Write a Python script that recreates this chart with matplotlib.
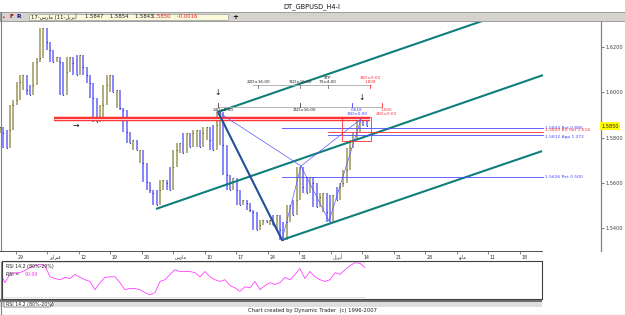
import matplotlib
matplotlib.use('Agg')
import matplotlib.pyplot as plt
import numpy as np
from matplotlib.patches import Rectangle, Polygon

# ---------------- data ----------------
week_labels = ['29', 'ﺮﻳﺍﺮﺒﻓ', '12', '19', '26', 'ﺱﺭﺎﻣ', '10', '17', '24', '31',
               'ﻞﻳﺮﺑﺃ', '14', '21', '28', 'ﻮﻳﺎﻣ', '11', '18']
price_ticks = [1.54, 1.56, 1.58, 1.60, 1.62]
last_price = 1.5850

# H4 price path (sampled), first sample at week -0.508, 9.45 samples per week
price_path = [
    1.5846, 1.5820, 1.5754, 1.5833, 1.5944, 1.5966, 1.6045, 1.6076, 1.6010, 1.5988,
    1.6032, 1.6134, 1.6151, 1.6284, 1.6222, 1.6187, 1.6134, 1.6156, 1.6134, 1.5988,
    1.6089, 1.6156, 1.6129, 1.6076, 1.6165, 1.6112, 1.6076, 1.6041, 1.5975, 1.5868,
    1.5891, 1.5944, 1.6032, 1.6076, 1.6001, 1.6010, 1.5930, 1.5922, 1.5824, 1.5776,
    1.5789, 1.5745, 1.5745, 1.5687, 1.5603, 1.5568, 1.5555, 1.5502, 1.5568, 1.5612,
    1.5599, 1.5568, 1.5670, 1.5745, 1.5776, 1.5731, 1.5820, 1.5758, 1.5820, 1.5833,
    1.5758, 1.5820, 1.5846, 1.5789, 1.5745, 1.5855, 1.5913, 1.5767, 1.5634, 1.5568,
    1.5621, 1.5568, 1.5502, 1.5524, 1.5510, 1.5480, 1.5471, 1.5391, 1.5413, 1.5435,
    1.5427, 1.5435, 1.5413, 1.5457, 1.5391, 1.5347, 1.5427, 1.5502, 1.5457, 1.5524,
    1.5670, 1.5581, 1.5555, 1.5625, 1.5599, 1.5493, 1.5537, 1.5555, 1.5471, 1.5427,
    1.5546, 1.5524, 1.5581, 1.5599, 1.5656, 1.5754, 1.5789, 1.5824, 1.5891, 1.5886,
    1.5850]
price_start_week = -0.508
price_per_week = 9.45

# RSI(14) sampled, first sample at week -0.508, 6.3 samples per week
rsi_values = [61, 44, 59, 61, 61, 65, 70, 73, 75, 73,
              54, 51, 49, 53, 51, 58, 53, 49, 46, 32,
              44, 53, 54, 54, 44, 32, 34, 34, 32, 27,
              23, 27, 46, 49, 58, 66, 63, 63, 63, 61,
              54, 63, 54, 49, 46, 49, 39, 35, 29, 37,
              35, 46, 32, 39, 44, 41, 44, 53, 49, 58,
              68, 51, 63, 54, 49, 46, 49, 61, 58, 66,
              73, 78, 77, 70]
rsi_start_week = -0.508
rsi_per_week = 6.3
rsi_levels = [20, 80]
rsi_last = 69.99

# pattern points X, A, B, C, D (week, price)
pat_w = [6.413, 8.444, 9.048, 9.937, 10.952]
pat_p = [1.5913, 1.5347, 1.5674, 1.5430, 1.5882]

# channel lines (start week, start price, end week, end price)
chan_top = (6.413, 1.5913, 16.73, 1.6408)
chan_mid = (4.444, 1.5484, 16.73, 1.6076)
chan_bot = (8.444, 1.5347, 16.70, 1.5740)

# resistance zone (red band)
zone_w = (1.206, 11.238)
zone_p = 1.5884

# projection levels: (price, start week, colour key, label)
levels = [(1.5844, 8.444, 'b', '1.5844 Ret 0.886'),
          (1.5823, 9.905, 'r', '1.5823 BX Ret 1.618'),
          (1.5812, 9.905, 'b', '1.5812 App 1.272'),
          (1.5626, 8.444, 'b', '1.5626 Ret 0.500')]
level_end_week = 16.73

# target box
box_w = (10.35, 11.27)
box_p = (1.5786, 1.5891)

# time rulers
ruler_up_p = 1.6032
ruler_up_span = (7.524, 11.27)
ruler_up_ticks = [(7.683, 'k', '22D±16:00'), (9.016, 'k', '31D±16:00'),
                  (9.905, 'k', 'STP\n73±4:00'), (11.238, 'r', '36D±0:00\n1.808')]
ruler_lo_p = 1.5935
ruler_lo_span = (6.413, 11.619)
ruler_lo_ticks = [(6.413, 'k', '24D±0:00'), (9.016, 'k', '31D±16:00'),
                  (10.667, 'b', '0.618\n15D±0:00'), (11.619, 'r', '1.000\n26D±0:00')]

# markers
down_arrows = [(6.413, 1.5997), (10.984, 1.5979)]
right_arrow = (1.905, 1.5855)

# ---------------- styling ----------------
BLUE_BAR = '#7272f6'
OLIVE_BAR = '#a49e66'
TEAL = '#0e7f7a'
NAVY = '#1f4f9a'
THIN_BLUE = '#5a5aff'
LVL_BLUE = '#4a4aff'
RED = '#ff3030'
RULER = '#a8a8a8'
colmap = {'k': '#202020', 'r': '#ff3030', 'b': '#4040ff'}

W, H = 625, 315
fig = plt.figure(figsize=(W / 100, H / 100), dpi=100)
fig.patch.set_facecolor('white')


def box(x0, y0, x1, y1):
    return [x0 / W, 1 - y1 / H, (x1 - x0) / W, (y1 - y0) / H]


# background / window chrome in pixel coordinates
bg = fig.add_axes([0, 0, 1, 1], zorder=0)
bg.set_xlim(0, W)
bg.set_ylim(H, 0)
bg.axis('off')
bg.add_patch(Rectangle((0, 12), W, 9, facecolor='#d6d3ce', edgecolor='#909090', lw=0.6))
bg.add_patch(Rectangle((29, 13.5), 199, 6.5, facecolor='#fbfbdc', edgecolor='#a0a0a0', lw=0.5))
bg.text(312, 6.5, 'DT_GBPUSD_H4-I', ha='center', va='center', fontsize=4.8, color='#101010')
bg.text(3, 17, '•', ha='center', va='center', fontsize=4.5, color='#e02020')
bg.text(11, 17, 'F', ha='center', va='center', fontsize=4.3, color='#a01010', weight='bold')
bg.text(19, 17, 'R', ha='center', va='center', fontsize=4.3, color='#1010a0', weight='bold')
bg.text(31, 17, '17-ﺱﺭﺎﻣ (11-ﻞﻳﺮﺑﺃ', ha='left', va='center', fontsize=3.8, color='#202020')
bg.text(85, 17, '1.5847    1.5854    1.5843', ha='left', va='center', fontsize=3.8, color='#202020')
bg.text(152, 17, '1.5850    -0.0016', ha='left', va='center', fontsize=3.8, color='#e02020')
bg.text(235, 17, '+', ha='center', va='center', fontsize=5, color='#101010', weight='bold')
bg.plot([0.5, 0.5], [12, 315], color='#808080', lw=0.8)
bg.plot([0, W], [314.5, 314.5], color='#808080', lw=0.8)
bg.add_patch(Rectangle((0, 299), 542, 2.5, facecolor='#707070', edgecolor='none'))
bg.add_patch(Rectangle((0, 301.5), 542, 5.5, facecolor='#dedede', edgecolor='none'))
bg.add_patch(Polygon([(4, 301.5), (53, 301.5), (50, 307), (4, 307)], closed=True,
                     facecolor='white', edgecolor='#606060', lw=0.5))
bg.text(6, 304.5, 'RSI 14.2 (80%-20%)', ha='left', va='center', fontsize=3.4, color='#202020')
bg.text(312, 310.5, 'Chart created by Dynamic Trader  (c) 1996-2007', ha='center', va='center',
        fontsize=3.8, color='#202020')

X_LEFT, X_RIGHT_MAIN, X_RIGHT_SUB = -0.508, 18.571, 16.70

# ---------------- main price panel ----------------
ax = fig.add_axes(box(0, 22, 601, 251), zorder=2)
ax.set_facecolor('none')
ax.set_xlim(X_LEFT, X_RIGHT_MAIN)
ax.set_ylim(1.5298, 1.6311)
for s in ['left', 'top', 'bottom']:
    ax.spines[s].set_visible(False)
ax.spines['right'].set_color('#808080')
ax.spines['right'].set_linewidth(0.9)
ax.set_xticks([])
ax.yaxis.tick_right()
ax.set_yticks(price_ticks)
ax.set_yticklabels(['%.4f' % v for v in price_ticks])
ax.tick_params(axis='y', labelsize=3.6, length=2, width=0.5, pad=1, colors='#404040')

p = np.array(price_path)
pw = price_start_week + np.arange(len(p)) / price_per_week
n = len(p)
for i in range(n):
    nb = p[max(i - 1, 0):min(i + 2, n)]
    lo, hi = nb.min(), nb.max()
    up = p[i] >= p[max(i - 1, 0)]
    col = OLIVE_BAR if up else BLUE_BAR
    ax.vlines(pw[i], lo, hi, colors=col, lw=1.2, zorder=3)
    ax.plot(pw[i], p[i], marker='s', ms=0.8, mew=0,
            color='#3a3aa0' if not up else '#6d6a3a', zorder=3)

# channels
for (w0, p0, w1, p1) in [chan_top, chan_mid, chan_bot]:
    ax.plot([w0, w1], [p0, p1], color=TEAL, lw=1.5, zorder=4, solid_capstyle='butt')

# XA leg
ax.plot(pat_w[:2], pat_p[:2], color=NAVY, lw=1.5, zorder=5)
# other legs and ratio lines
for a, b in [(1, 2), (2, 3), (3, 4), (0, 2), (2, 4)]:
    ax.plot([pat_w[a], pat_w[b]], [pat_p[a], pat_p[b]], color=THIN_BLUE, lw=0.5, zorder=5)

# red zone
ax.plot(zone_w, [zone_p, zone_p], color=RED, lw=3.2, zorder=4, solid_capstyle='butt')
ax.plot(zone_w, [zone_p, zone_p], color='#ffd0d0', lw=0.8, zorder=4, solid_capstyle='butt')

# levels and labels
label_va = ['center', 'bottom', 'top', 'center']
for (lv, w0, c, lab), va in zip(levels, label_va):
    col = RED if c == 'r' else LVL_BLUE
    ax.plot([w0, level_end_week], [lv, lv], color=col, lw=0.6, zorder=4)
    ax.text(level_end_week + 0.05, lv, lab, fontsize=3.2, color=col, va=va, ha='left',
            zorder=6)

# target box
ax.add_patch(Rectangle((box_w[0], box_p[0]), box_w[1] - box_w[0], box_p[1] - box_p[0],
                       fill=False, edgecolor=RED, lw=0.6, zorder=5))

# time rulers
ax.plot(ruler_up_span, [ruler_up_p] * 2, color=RULER, lw=0.6, zorder=4)
for w, c, lab in ruler_up_ticks:
    ax.plot([w, w], [ruler_up_p, ruler_up_p - 0.0012], color=colmap[c] if c != 'k' else '#707070',
            lw=0.6, zorder=4)
    ax.text(w, ruler_up_p + 0.0006, lab, fontsize=3.0, color=colmap[c], ha='center',
            va='bottom', linespacing=0.9, zorder=6)
ax.plot(ruler_lo_span, [ruler_lo_p] * 2, color=RULER, lw=0.6, zorder=4)
for w, c, lab in ruler_lo_ticks:
    ax.plot([w, w], [ruler_lo_p, ruler_lo_p + 0.0016], color=colmap[c] if c != 'k' else '#404040',
            lw=0.6, zorder=4)
    ax.text(w + 0.15, ruler_lo_p - 0.0005, lab, fontsize=3.0, color=colmap[c], ha='center',
            va='top', linespacing=0.9, zorder=6)

for w, pr in down_arrows:
    ax.text(w, pr, '↓', fontsize=5.5, ha='center', va='center', color='#101010', zorder=6)
ax.text(right_arrow[0], right_arrow[1], '→', fontsize=5.5, ha='center', va='center',
        color='#101010', zorder=6)

# current price marker
ax.text(1.0, last_price, '%.4f' % last_price, transform=ax.get_yaxis_transform(),
        fontsize=3.6, ha='left', va='center', color='#202020', zorder=7,
        bbox=dict(boxstyle='square,pad=0.25', facecolor='#ffff00', edgecolor='none'))

# ---------------- date strip ----------------
dx = fig.add_axes(box(0, 251, 542, 262), zorder=2)
dx.set_xlim(X_LEFT, X_RIGHT_SUB)
dx.set_ylim(0, 1)
for s in ['left', 'right', 'bottom']:
    dx.spines[s].set_visible(False)
dx.spines['top'].set_color('#505050')
dx.spines['top'].set_linewidth(0.7)
dx.set_yticks([])
dx.xaxis.tick_top()
dx.set_xticks(range(len(week_labels)))
dx.set_xticklabels([])
dx.tick_params(axis='x', direction='in', length=2, width=0.5, colors='#505050')
for i, lab in enumerate(week_labels):
    dx.text(i + 0.04, 0.45, lab, fontsize=3.4, ha='left', va='center', color='#303030')

# ---------------- RSI panel ----------------
rx = fig.add_axes(box(2, 261, 542, 299), zorder=2)
rx.set_xlim((2 - 16) / 31.5, X_RIGHT_SUB)
rx.set_ylim(16, 81)
for s in rx.spines.values():
    s.set_color('#404040')
    s.set_linewidth(0.8)
rx.set_xticks([])
rx.set_yticks([])
rv = np.array(rsi_values)
rw = rsi_start_week + np.arange(len(rv)) / rsi_per_week
rx.plot(rw, rv, color='#ff40ff', lw=0.6)
for lv in rsi_levels:
    rx.plot([rw[0], rw[-1]], [lv, lv], color='#b0b0b0', lw=0.5, ls=(0, (1, 1)))
rx.text(0.008, 0.93, 'RSI 14.2 (80%-20%)', transform=rx.transAxes, fontsize=3.4,
        ha='left', va='top', color='#202020')
rx.text(0.008, 0.72, 'RSI =', transform=rx.transAxes, fontsize=3.4, ha='left', va='top',
        color='#202020')
rx.text(0.042, 0.72, '%.2f' % rsi_last, transform=rx.transAxes, fontsize=3.4, ha='left',
        va='top', color='#ff40ff')

fig.savefig('out.png', dpi=100)
